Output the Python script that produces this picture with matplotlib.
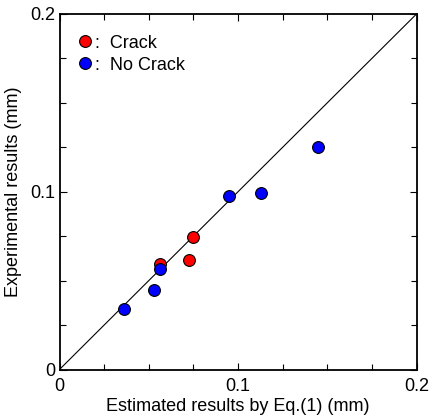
import matplotlib
matplotlib.use("Agg")
import matplotlib.pyplot as plt
from matplotlib.ticker import MultipleLocator, FixedFormatter, FixedLocator

plt.rcParams['font.family'] = ['Liberation Sans', 'DejaVu Sans']

crack_x = [0.0562, 0.0749, 0.0723]
crack_y = [0.0593, 0.0745, 0.0617]
nocrack_x = [0.0363, 0.0531, 0.0561, 0.0950, 0.1128, 0.1449]
nocrack_y = [0.0340, 0.0448, 0.0563, 0.0974, 0.0991, 0.1253]
tick_vals = [0, 0.1, 0.2]
tick_labels = ["0", "0.1", "0.2"]
labels = [":  Crack", ":  No Crack"]

fig = plt.figure(figsize=(4.3, 4.2), dpi=100)
ax = fig.add_axes([59.5/430, 1 - 369.5/420, 357/430, 355.5/420])

ax.plot([0, 0.2], [0, 0.2], color='black', lw=0.8, zorder=1)
ms = 8.5
h1, = ax.plot(crack_x, crack_y, 'o', ms=ms, mfc='#ff0000', mec='black', mew=0.8, ls='none', zorder=3)
h2, = ax.plot(nocrack_x, nocrack_y, 'o', ms=ms, mfc='#0000ff', mec='black', mew=0.8, ls='none', zorder=3)

ax.set_xlim(0, 0.2)
ax.set_ylim(0, 0.2)
for axis in (ax.xaxis, ax.yaxis):
    axis.set_major_locator(FixedLocator(tick_vals))
    axis.set_major_formatter(FixedFormatter(tick_labels))
    axis.set_minor_locator(MultipleLocator(0.025))
ax.tick_params(which='both', direction='in', top=True, right=True, labelsize=13, width=0.8)
ax.tick_params(which='major', length=5)
ax.tick_params(which='minor', length=4)
ax.tick_params(axis='x', pad=6)
ax.tick_params(axis='y', pad=3)
for s in ax.spines.values():
    s.set_linewidth(1.3)

ax.set_xlabel("Estimated results by Eq.(1) (mm)", fontsize=13, labelpad=2)
ax.set_ylabel("Experimental results (mm)", fontsize=13, labelpad=6)

ax.legend([h1, h2], labels, loc='upper left', bbox_to_anchor=(0.03, 0.962), frameon=False,
          fontsize=13, handlelength=0.8, handletextpad=0.2, labelspacing=0.28, borderaxespad=0)

fig.savefig("out.png", dpi=100)
